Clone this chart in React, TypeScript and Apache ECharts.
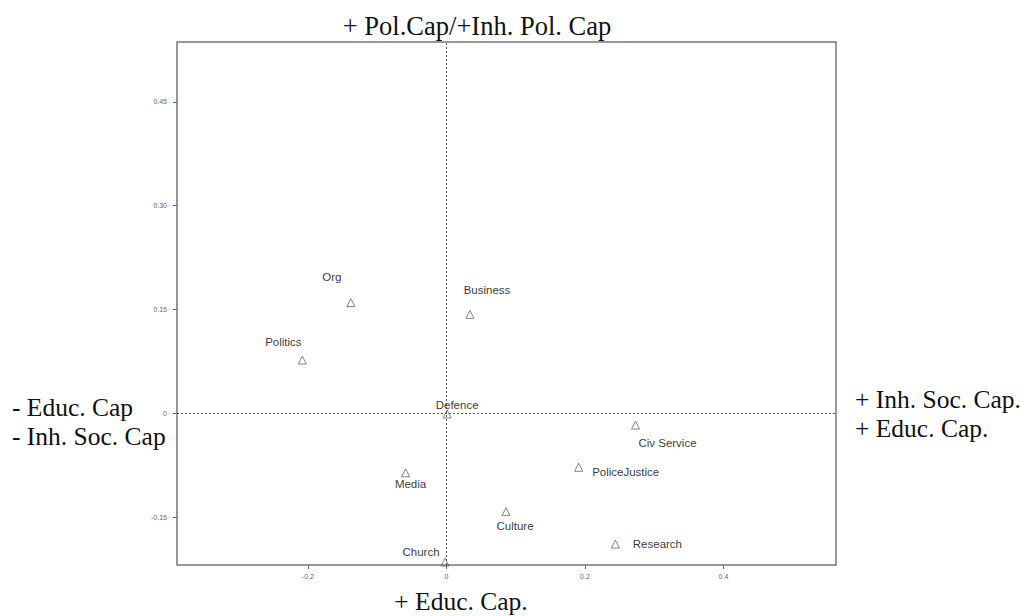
import React, { useEffect, useRef } from "react";
import * as echarts from "echarts";

const names = ["Org", "Business", "Politics", "Defence", "Civ Service", "PoliceJustice", "Media", "Culture", "Research", "Church"];
const xValues = [-0.138, 0.034, -0.208, 0.001, 0.273, 0.191, -0.059, 0.086, 0.244, -0.002];
const yValues = [0.160, 0.143, 0.077, -0.001, -0.017, -0.078, -0.086, -0.142, -0.189, -0.215];
const xTicks = [-0.2, 0, 0.2, 0.4];
const yTicks = [-0.15, 0, 0.15, 0.3, 0.45];
const yTickLabels = ["-0.15", "0", "0.15", "0.30", "0.45"];

// label offsets (style only)
const labelOffsets: [number, number][] = [
  [-19, -26], [17, -24], [-19, -18], [10, -9], [32, 18],
  [47, 5], [5, 11], [9, 14], [42, 0], [-24, -10],
];

export default function App() {
  const ref = useRef<HTMLDivElement>(null);
  useEffect(() => {
    if (!ref.current) return;
    const chart = echarts.init(ref.current, undefined, { renderer: "svg" });
    const serif = "Liberation Serif";
    const bigText = (text: string, x: number, y: number, align: string, size: number) => ({
      type: "text",
      x,
      y,
      style: { text, fill: "#111", font: `${size}px "${serif}"`, textAlign: align, textVerticalAlign: "middle" },
    });
    chart.setOption({
      animation: false,
      backgroundColor: "#fff",
      grid: { left: 177, top: 42, right: 185, bottom: 51, show: true, borderColor: "#777", borderWidth: 1.5 },
      xAxis: {
        type: "value",
        min: -0.389,
        max: 0.5625,
        splitLine: { show: false },
        axisLine: { show: false, onZero: false },
        axisTick: { show: true, customValues: xTicks, length: 4, lineStyle: { color: "#666" } },
        axisLabel: {
          customValues: xTicks,
          fontSize: 7,
          color: "#666",
          fontFamily: "Liberation Sans",
          margin: 8,
          formatter: (v: number) => String(Math.round(v * 10) / 10),
        },
      },
      yAxis: {
        type: "value",
        min: -0.2192,
        max: 0.5366,
        splitLine: { show: false },
        axisLine: { show: false, onZero: false },
        axisTick: { show: true, customValues: yTicks, length: 4, lineStyle: { color: "#666" } },
        axisLabel: {
          customValues: yTicks,
          fontSize: 7,
          color: "#666",
          fontFamily: "Liberation Sans",
          margin: 10,
          formatter: (v: number) => {
            const i = yTicks.findIndex((t) => Math.abs(t - v) < 1e-6);
            return i >= 0 ? yTickLabels[i] : "";
          },
        },
      },
      graphic: [
        bigText("+ Pol.Cap/+Inh. Pol. Cap", 477, 26, "center", 26.5),
        bigText("- Educ. Cap", 12, 407, "left", 25.5),
        bigText("- Inh. Soc. Cap", 12, 436, "left", 25.5),
        bigText("+ Inh. Soc. Cap.", 855, 399, "left", 25.5),
        bigText("+ Educ. Cap.", 855, 428, "left", 25.5),
        bigText("+ Educ. Cap.", 461, 601, "center", 25.5),
      ],
      series: [
        {
          type: "scatter",
          symbol: "triangle",
          symbolSize: 8,
          itemStyle: { color: "rgba(0,0,0,0)", borderColor: "#666", borderWidth: 1 },
          data: names.map((n, i) => ({
            name: n,
            value: [xValues[i], yValues[i]],
            label: {
              show: true,
              formatter: n,
              position: "inside",
              offset: labelOffsets[i],
              color: "#000",
              fontSize: 11.5,
              fontFamily: "Liberation Sans",
              align: "center",
              verticalAlign: "middle",
            },
          })),
          markLine: {
            silent: true,
            symbol: "none",
            label: { show: false },
            lineStyle: { color: "#555", type: [2, 2], width: 1 },
            data: [{ xAxis: 0 }, { yAxis: 0 }],
          },
        },
      ],
    });
    return () => chart.dispose();
  }, []);
  return <div ref={ref} style={{ position: "absolute", left: 0, top: 0, width: 1021, height: 616 }} />;
}
